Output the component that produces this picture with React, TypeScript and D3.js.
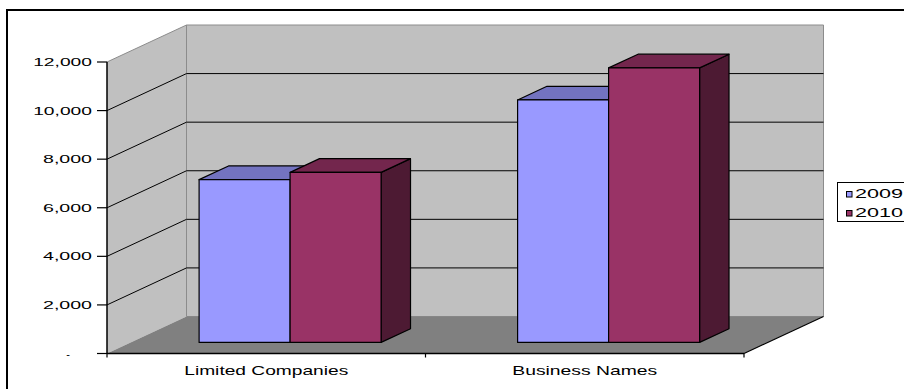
import React from "react";
import * as d3 from "d3";

const categories = ["Limited Companies", "Business Names"];
const seriesNames = ["2009", "2010"];
const values2009 = [6700, 9980];
const values2010 = [7000, 11300];
const yTicks = [0, 2000, 4000, 6000, 8000, 10000, 12000];
const yTickLabels = ["-", "2,000", "4,000", "6,000", "8,000", "10,000", "12,000"];
const catLabelWidths = [164, 145];

const seriesValues = [values2009, values2010];
const frontColors = ["#9999FF", "#993366"];
const topColors = ["#7373C0", "#73264D"];
const sideColors = ["#5C5C99", "#4D1A33"];

const W = 904;
const H = 389;
const DX = 79.5;
const DY = 37;
const D0 = 0.3;
const D1 = 0.67;

export default function App() {
  const y = d3.scaleLinear().domain([0, 12000]).range([353.5, 62]);
  const x0 = d3.scaleBand<string>().domain(categories).range([107, 744]);
  const x1 = d3
    .scaleBand<string>()
    .domain(seriesNames)
    .range([0, x0.bandwidth()])
    .paddingInner(0)
    .paddingOuter(0.75);

  const P = (x: number, yy: number, d: number) => [x + DX * d, yy - DY * d];
  const pts = (arr: number[][]) => arr.map((p) => p.join(",")).join(" ");

  const xL = 107;
  const xR = 744;
  const y0 = y(0);
  const yTop = y(12000);

  const bars: JSX.Element[] = [];
  categories.forEach((cat, ci) => {
    seriesNames.forEach((s, si) => {
      const v = seriesValues[si][ci];
      const xl = (x0(cat) as number) + (x1(s) as number);
      const xr = xl + x1.bandwidth();
      const yt = y(v);
      const yb = y(0);
      const f1 = P(xl, yt, D0);
      const f2 = P(xr, yb, D0);
      bars.push(
        <g key={cat + s} stroke="#000" strokeWidth={1.2} strokeLinejoin="round">
          <polygon
            points={pts([P(xr, yt, D0), P(xr, yt, D1), P(xr, yb, D1), P(xr, yb, D0)])}
            fill={sideColors[si]}
          />
          <polygon
            points={pts([P(xl, yt, D0), P(xl, yt, D1), P(xr, yt, D1), P(xr, yt, D0)])}
            fill={topColors[si]}
          />
          <rect x={f1[0]} y={f1[1]} width={f2[0] - f1[0]} height={f2[1] - f1[1]} fill={frontColors[si]} />
        </g>
      );
    });
  });

  return (
    <svg
      width={W}
      height={H}
      style={{ position: "absolute", left: 0, top: 0, background: "#fff" }}
      fontFamily="'Liberation Sans', Arial, sans-serif"
    >
      <rect x={7} y={10} width={1000} height={1000} fill="#fff" stroke="#000" strokeWidth={2} />
      {/* side wall */}
      <polygon
        points={pts([[xL, yTop], P(xL, yTop, 1), P(xL, y0, 1), [xL, y0]])}
        fill="#C0C0C0"
      />
      {/* back wall */}
      <polygon
        points={pts([P(xL, yTop, 1), P(xR, yTop, 1), P(xR, y0, 1), P(xL, y0, 1)])}
        fill="#C0C0C0"
        stroke="#8C8C8C"
        strokeWidth={1}
      />
      {/* floor */}
      <polygon points={pts([[xL, y0], P(xL, y0, 1), P(xR, y0, 1), [xR, y0]])} fill="#808080" />
      {/* side wall top edge */}
      <line x1={xL} y1={yTop} x2={P(xL, yTop, 1)[0]} y2={P(xL, yTop, 1)[1]} stroke="#8C8C8C" strokeWidth={1} />
      {/* gridlines */}
      {yTicks
        .filter((t) => t > 0 && t < 12000)
        .map((t) => {
          const b1 = P(xL, y(t), 1);
          const b2 = P(xR, y(t), 1);
          return (
            <g key={"g" + t} stroke="#000" strokeWidth={1}>
              <line x1={xL} y1={y(t)} x2={b1[0]} y2={b1[1]} />
              <line x1={b1[0]} y1={b1[1]} x2={b2[0]} y2={b2[1]} />
            </g>
          );
        })}
      {/* floor right edge */}
      <line x1={xR} y1={y0} x2={P(xR, y0, 1)[0]} y2={P(xR, y0, 1)[1]} stroke="#000" strokeWidth={1.2} />
      {bars}
      {/* axes */}
      <line x1={xL} y1={yTop} x2={xL} y2={y0} stroke="#000" strokeWidth={1.5} />
      <line x1={xL} y1={y0} x2={xR} y2={y0} stroke="#000" strokeWidth={1.5} />
      {yTicks.map((t, i) => (
        <g key={"t" + t}>
          <line x1={97} y1={y(t)} x2={xL} y2={y(t)} stroke="#000" strokeWidth={1.2} />
          {yTickLabels[i] === "-" ? (
            <text x={70} y={y(t) + 4} fontSize={11} textAnchor="end" fill="#000">
              -
            </text>
          ) : (
            <text
              x={92}
              y={y(t) + 4}
              fontSize={11}
              textAnchor="end"
              fill="#000"
              textLength={yTickLabels[i].length * 9.8}
              lengthAdjust="spacingAndGlyphs"
            >
              {yTickLabels[i]}
            </text>
          )}
        </g>
      ))}
      {[xL, xL + x0.step(), xR].map((xx, i) => (
        <line key={"xt" + i} x1={xx} y1={y0} x2={xx} y2={y0 + 4} stroke="#000" strokeWidth={1.2} />
      ))}
      {categories.map((c, i) => (
        <text
          key={c}
          x={(x0(c) as number) + x0.bandwidth() / 2}
          y={375}
          fontSize={13}
          textAnchor="middle"
          fill="#000"
          textLength={catLabelWidths[i]}
          lengthAdjust="spacingAndGlyphs"
        >
          {c}
        </text>
      ))}
      {/* legend */}
      <rect x={837.5} y={182.5} width={90} height={39} fill="#fff" stroke="#000" strokeWidth={1} />
      {seriesNames.map((s, i) => (
        <g key={"l" + s}>
          <rect x={846.5} y={191.5 + i * 19} width={5.5} height={5.5} fill={frontColors[i]} stroke="#000" strokeWidth={1} />
          <text
            x={855}
            y={198 + i * 19}
            fontSize={12}
            fill="#000"
            textLength={48}
            lengthAdjust="spacingAndGlyphs"
          >
            {s}
          </text>
        </g>
      ))}
    </svg>
  );
}
